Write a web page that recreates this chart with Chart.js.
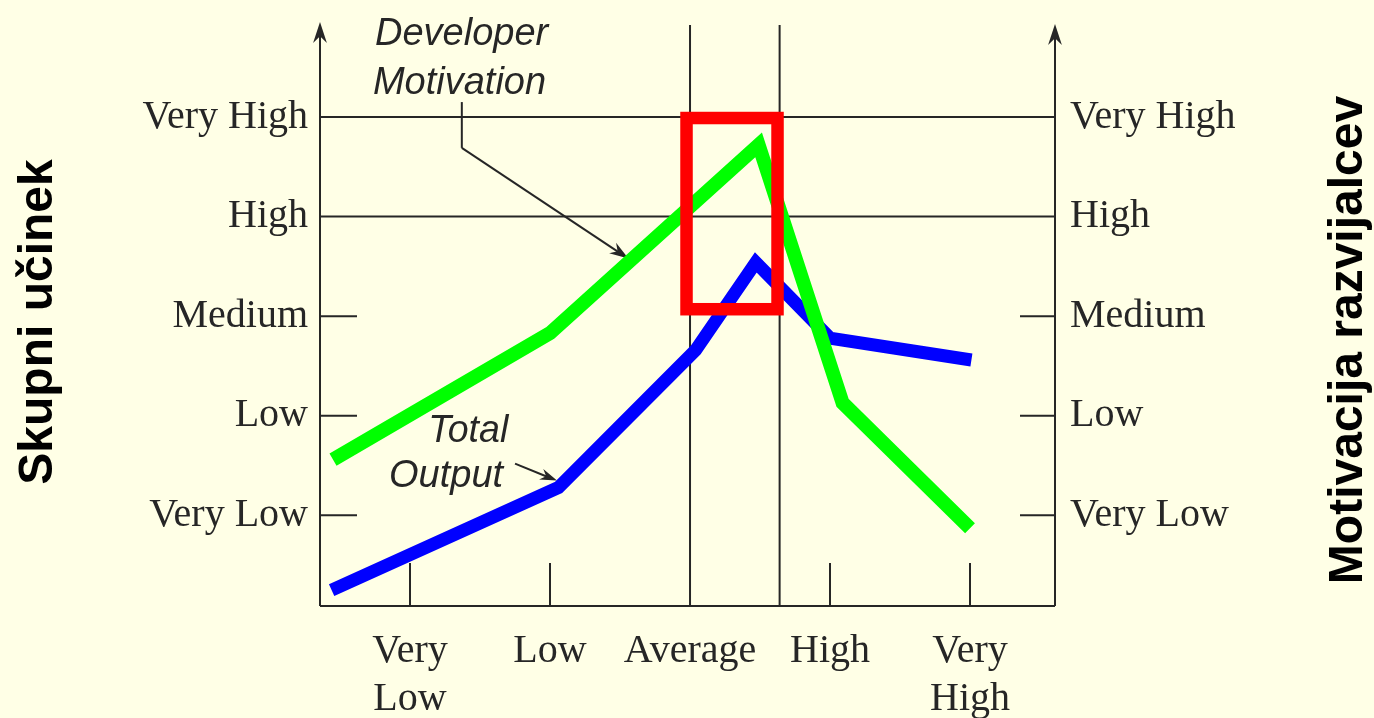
<!DOCTYPE html>
<html>
<head>
<meta charset="utf-8">
<script src="https://cdn.jsdelivr.net/npm/chart.js@4.4.0/dist/chart.umd.min.js"></script>
<style>
  html, body { margin: 0; padding: 0; background: #FFFFE6; }
  canvas { display: block; }
</style>
</head>
<body>
<canvas id="grafico" width="1374" height="718"></canvas>
<script>
// Oznake osi
const xLabels = [['Very', 'Low'], 'Low', 'Average', 'High', ['Very', 'High']]
const yLabels = ['Very Low', 'Low', 'Medium', 'High', 'Very High']
const levels = [1, 2, 3, 4, 5]

// Developer Motivation (zelena črta)
const motivacijaX = [0.45, 2.0, 3.49, 4.09, 5.0]
const motivacijaY = [1.56, 2.83, 4.72, 2.13, 0.87]

// Total Output (modra črta)
const ucinekX = [0.44, 2.06, 3.04, 3.47, 4.0, 5.01]
const ucinekY = [0.25, 1.28, 2.66, 3.54, 2.78, 2.56]

const tocke = (xs, ys) => xs.map((v, i) => ({ x: v, y: ys[i] }))

const crnilo = '#262626'
const serif = '"Liberation Serif", "Times New Roman", serif'
const sans = '"Liberation Sans", Arial, sans-serif'

function crta(ctx, x0, y0, x1, y1) {
    ctx.beginPath()
    ctx.moveTo(x0, y0)
    ctx.lineTo(x1, y1)
    ctx.stroke()
}

function puscica(ctx, x0, y0, x1, y1, size) {
    const ang = Math.atan2(y1 - y0, x1 - x0)
    ctx.beginPath()
    ctx.moveTo(x1, y1)
    ctx.lineTo(x1 - size * Math.cos(ang - 0.32), y1 - size * Math.sin(ang - 0.32))
    ctx.lineTo(x1 - size * 0.65 * Math.cos(ang), y1 - size * 0.65 * Math.sin(ang))
    ctx.lineTo(x1 - size * Math.cos(ang + 0.32), y1 - size * Math.sin(ang + 0.32))
    ctx.closePath()
    ctx.fill()
}

// okvir, mreža in oznake – vse preko skal
const okvir = {
    id: 'okvir',
    beforeDatasetsDraw(chart) {
        const { ctx, chartArea: a, scales: { x, y } } = chart
        ctx.save()
        ctx.strokeStyle = crnilo
        ctx.fillStyle = crnilo
        ctx.lineWidth = 2

        // osi
        crta(ctx, a.left, a.bottom, a.right, a.bottom)
        crta(ctx, a.left, a.bottom, a.left, a.top + 6)
        crta(ctx, a.right, a.bottom, a.right, a.top + 6)
        puscica(ctx, a.left, a.bottom, a.left, a.top - 3, 22)
        puscica(ctx, a.right, a.bottom, a.right, a.top - 1, 22)

        // vodoravne črte in kratke oznake
        levels.forEach(v => {
            const py = y.getPixelForValue(v)
            if (v >= 4) {
                crta(ctx, a.left, py, a.right, py)
            } else {
                crta(ctx, a.left, py, a.left + 37, py)
                crta(ctx, a.right - 35, py, a.right, py)
            }
        })

        // navpične črte in kratke oznake
        levels.forEach(v => {
            const px = x.getPixelForValue(v)
            if (v === 3) crta(ctx, px, a.bottom, px, a.top)
            else crta(ctx, px, a.bottom, px, a.bottom - 43)
        })
        const meja = x.getPixelForValue(3.64)
        crta(ctx, meja, a.bottom, meja, a.top)

        // napisi na grafu
        ctx.font = 'italic 38px ' + sans
        ctx.textAlign = 'left'
        ctx.textBaseline = 'alphabetic'
        ctx.fillText('Developer', x.getPixelForValue(0.75), y.getPixelForValue(5.72), 178)
        ctx.fillText('Motivation', x.getPixelForValue(0.735), y.getPixelForValue(5.23), 178)
        ctx.fillText('Total', x.getPixelForValue(1.13), y.getPixelForValue(1.74), 80)
        ctx.fillText('Output', x.getPixelForValue(0.85), y.getPixelForValue(1.28), 119)

        // kazalca
        ctx.lineWidth = 2
        const lx = x.getPixelForValue(1.37)
        const l0 = y.getPixelForValue(5.15)
        const l1 = y.getPixelForValue(4.69)
        const tx = x.getPixelForValue(2.56)
        const ty = y.getPixelForValue(3.58)
        crta(ctx, lx, l0, lx, l1)
        crta(ctx, lx, l1, tx - 8, ty - 5)
        puscica(ctx, lx, l1, tx, ty, 20)

        const ox0 = x.getPixelForValue(1.75)
        const oy0 = y.getPixelForValue(1.52)
        const ox1 = x.getPixelForValue(2.05)
        const oy1 = y.getPixelForValue(1.35)
        crta(ctx, ox0, oy0, ox1 - 8, oy1 - 3)
        puscica(ctx, ox0, oy0, ox1, oy1, 18)

        ctx.restore()
    },
    afterDatasetsDraw(chart) {
        const { ctx, scales: { x, y } } = chart
        ctx.save()
        // rdeč okvir okoli vrha
        ctx.strokeStyle = '#FF0000'
        ctx.lineWidth = 12.5
        const x0 = x.getPixelForValue(2.975)
        const x1 = x.getPixelForValue(3.625)
        const y0 = y.getPixelForValue(4.99)
        const y1 = y.getPixelForValue(3.07)
        ctx.strokeRect(x0, y0, x1 - x0, y1 - y0)

        // naslova osi
        ctx.fillStyle = '#000000'
        ctx.font = 'bold 48px ' + sans
        ctx.textAlign = 'center'
        ctx.textBaseline = 'alphabetic'
        ctx.translate(52, 322)
        ctx.rotate(-Math.PI / 2)
        ctx.fillText('Skupni učinek', 0, 0)
        ctx.setTransform(1, 0, 0, 1, 0, 0)
        ctx.translate(1362, 340)
        ctx.rotate(-Math.PI / 2)
        ctx.fillText('Motivacija razvijalcev', 0, 0)
        ctx.restore()
    }
}

const nastaviTicke = scale => {
    scale.ticks = levels.map(v => ({ value: v }))
}

// navpični osi: fiksna širina, brez dodatnega roba zgoraj/spodaj
const fiksnaSirina = w => s => {
    s.width = w
    s.paddingTop = 0
    s.paddingBottom = 0
}

const oznakaY = {
    display: true,
    color: crnilo,
    font: { family: serif, size: 40 },
    callback: v => yLabels[levels.indexOf(v)]
}

new Chart(document.getElementById('grafico'), {
    type: 'line',
    data: {
        datasets: [{
            label: 'Developer Motivation',
            data: tocke(motivacijaX, motivacijaY),
            borderColor: '#00FF00',
            borderWidth: 14,
            borderJoinStyle: 'miter',
            borderCapStyle: 'butt',
            pointRadius: 0,
            tension: 0
        }, {
            label: 'Total Output',
            data: tocke(ucinekX, ucinekY),
            borderColor: '#0000FF',
            borderWidth: 13,
            borderJoinStyle: 'miter',
            borderCapStyle: 'butt',
            pointRadius: 0,
            tension: 0
        }]
    },
    options: {
        responsive: false,
        animation: false,
        layout: { padding: { top: 25, left: 0, right: 0, bottom: 0 } },
        plugins: {
            legend: { display: false },
            tooltip: { enabled: false }
        },
        scales: {
            x: {
                type: 'linear',
                position: 'bottom',
                min: 0.357,
                max: 5.607,
                afterBuildTicks: nastaviTicke,
                afterFit: s => { s.height = 112; s.paddingLeft = 0; s.paddingRight = 0 },
                grid: { display: false },
                border: { display: false },
                ticks: {
                    color: crnilo,
                    font: { family: serif, size: 40, lineHeight: 1.2 },
                    padding: 13,
                    maxRotation: 0,
                    autoSkip: false,
                    callback: v => xLabels[levels.indexOf(v)]
                }
            },
            y: {
                type: 'linear',
                position: 'left',
                min: 0.09,
                max: 5.924,
                afterBuildTicks: nastaviTicke,
                afterFit: fiksnaSirina(320),
                grid: { display: false, drawTicks: false },
                border: { display: false },
                ticks: Object.assign({ padding: 12 }, oznakaY)
            },
            y2: {
                type: 'linear',
                position: 'right',
                min: 0.09,
                max: 5.924,
                afterBuildTicks: nastaviTicke,
                afterFit: fiksnaSirina(319),
                grid: { display: false, drawTicks: false },
                border: { display: false },
                ticks: Object.assign({ padding: 15 }, oznakaY)
            }
        }
    },
    plugins: [okvir]
})
</script>
</body>
</html>
